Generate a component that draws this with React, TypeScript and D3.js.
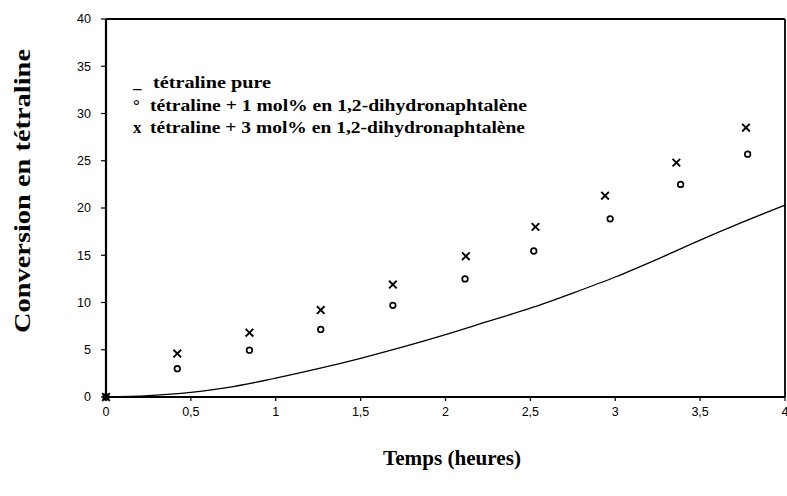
import React from "react";
import * as d3 from "d3";

const pureTimes = [0, 0.25, 0.5, 0.75, 1, 1.25, 1.5, 1.75, 2, 2.25, 2.5, 2.75, 3, 3.25, 3.5, 3.75, 4];
const pureValues = [0, 0.15, 0.5, 1.1, 2.0, 3.0, 4.1, 5.3, 6.6, 8.0, 9.4, 11.0, 12.7, 14.6, 16.6, 18.5, 20.3];

const oneTimes = [0, 0.42, 0.845, 1.265, 1.69, 2.115, 2.52, 2.97, 3.385, 3.78];
const oneValues = [0, 3.0, 4.95, 7.15, 9.7, 12.5, 15.45, 18.85, 22.5, 25.7];

const threeTimes = [0, 0.42, 0.845, 1.265, 1.69, 2.12, 2.53, 2.94, 3.36, 3.77];
const threeValues = [0, 4.6, 6.8, 9.2, 11.9, 14.9, 18.0, 21.3, 24.8, 28.5];

const xTicks = [0, 0.5, 1, 1.5, 2, 2.5, 3, 3.5, 4];
const yTicks = [0, 5, 10, 15, 20, 25, 30, 35, 40];

const legendSymbols = ["_", "°", "x"];
const legendLabels = [
  "tétraline pure",
  "tétraline + 1 mol% en 1,2-dihydronaphtalène",
  "tétraline + 3 mol% en 1,2-dihydronaphtalène",
];

const xTitle = "Temps (heures)";
const yTitle = "Conversion en tétraline";

const W = 787;
const H = 496;
const L = 106;
const R = 785;
const T = 19;
const B = 397;

export default function App() {
  const x = d3.scaleLinear().domain([0, 4]).range([L, R]);
  const y = d3.scaleLinear().domain([0, 40]).range([B, T]);
  const fmt = (v: number) => String(v).replace(".", ",");

  const line = d3
    .line<number>()
    .x((_, i) => x(pureTimes[i]))
    .y((d) => y(d))
    .curve(d3.curveMonotoneX);

  const tickFont = "'Liberation Sans', Arial, sans-serif";
  const serif = "'Liberation Serif', 'Times New Roman', serif";
  const legendLens = [118, 377, 375];

  return (
    <svg
      width={W}
      height={H}
      style={{ position: "absolute", left: 0, top: 0, background: "#fff" }}
    >
      <rect x={0} y={0} width={W} height={H} fill="#fff" />
      {/* box */}
      <line x1={L} x2={R} y1={T} y2={T} stroke="#000" strokeWidth={1.8} />
      <line x1={R} x2={R} y1={T} y2={B} stroke="#000" strokeWidth={1.8} />
      <line x1={L} x2={R} y1={B} y2={B} stroke="#000" strokeWidth={2} />
      <line x1={L} x2={L} y1={T} y2={B} stroke="#000" strokeWidth={2.2} />

      {/* y ticks */}
      {yTicks.map((t) => (
        <g key={"y" + t}>
          <line x1={L - 5} x2={L} y1={y(t)} y2={y(t)} stroke="#000" strokeWidth={1.2} />
          <text
            x={L - 15}
            y={y(t)}
            dy="0.35em"
            textAnchor="end"
            fontFamily={tickFont}
            fontSize={12.5}
          >
            {fmt(t)}
          </text>
        </g>
      ))}
      {/* x ticks */}
      {xTicks.map((t) => (
        <g key={"x" + t}>
          <line x1={x(t)} x2={x(t)} y1={B} y2={B + 4} stroke="#000" strokeWidth={1.2} />
          <text
            x={x(t)}
            y={B + 10}
            dy="0.71em"
            textAnchor="middle"
            fontFamily={tickFont}
            fontSize={12.5}
          >
            {fmt(t)}
          </text>
        </g>
      ))}

      {/* pure line */}
      <path d={line(pureValues) || ""} fill="none" stroke="#000" strokeWidth={1.3} />

      {/* 1 mol% circles */}
      {oneValues.map((v, i) => (
        <circle
          key={"c" + i}
          cx={x(oneTimes[i])}
          cy={y(v)}
          r={2.8}
          fill="none"
          stroke="#000"
          strokeWidth={1.7}
        />
      ))}
      {/* 3 mol% crosses */}
      {threeValues.map((v, i) => {
        const cx = x(threeTimes[i]);
        const cy = y(v);
        const s = 3.8;
        return (
          <g key={"x" + i} stroke="#000" strokeWidth={1.9}>
            <line x1={cx - s} x2={cx + s} y1={cy - s} y2={cy + s} />
            <line x1={cx - s} x2={cx + s} y1={cy + s} y2={cy - s} />
          </g>
        );
      })}

      {/* legend */}
      {legendLabels.map((lab, i) => (
        <g key={"l" + i}>
          <text
            x={133}
            y={88 + i * 22.5}
            fontFamily={serif}
            fontWeight="bold"
            fontSize={17}
          >
            {legendSymbols[i]}
          </text>
          <text
            x={i === 0 ? 153 : 150}
            y={88 + i * 22.5}
            fontFamily={serif}
            fontWeight="bold"
            fontSize={17}
            textLength={legendLens[i]}
            lengthAdjust="spacingAndGlyphs"
          >
            {lab}
          </text>
        </g>
      ))}

      {/* axis titles */}
      <text
        x={452}
        y={465}
        textAnchor="middle"
        fontFamily={serif}
        fontWeight="bold"
        fontSize={21}
        textLength={138}
        lengthAdjust="spacingAndGlyphs"
      >
        {xTitle}
      </text>
      <text
        transform={`translate(30, 191) rotate(-90)`}
        textAnchor="middle"
        fontFamily={serif}
        fontWeight="bold"
        fontSize={24}
        textLength={284}
        lengthAdjust="spacingAndGlyphs"
      >
        {yTitle}
      </text>
    </svg>
  );
}
